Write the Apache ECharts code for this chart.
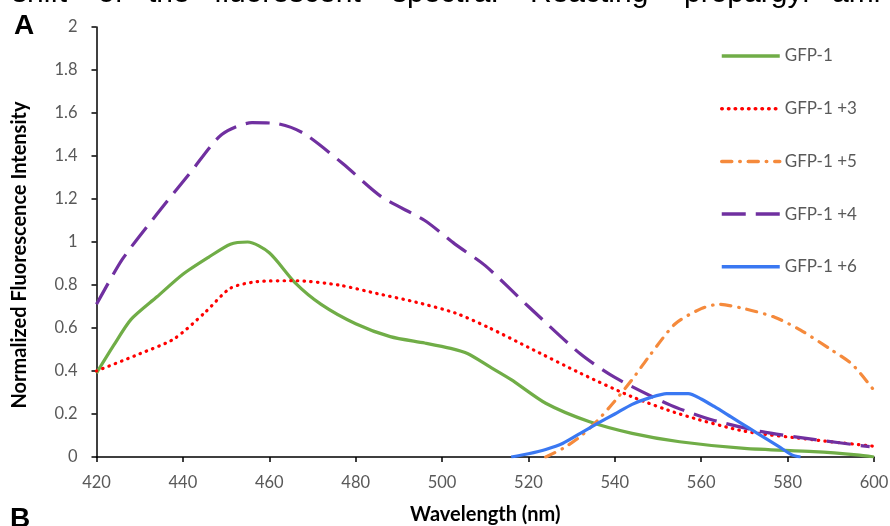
<!DOCTYPE html>
<html>
<head>
<meta charset="utf-8">
<script src="https://cdn.jsdelivr.net/npm/echarts@6/dist/echarts.min.js"></script>
<style>
  html, body { margin: 0; padding: 0; background: #fff; }
  #chart { width: 890px; height: 526px; }
</style>
</head>
<body>
<div id="chart"></div>
<script>
// Axis tick settings
const xTicks = { min: 420, max: 600, step: 20 };
const yTicks = { min: 0, max: 2, step: 0.2 };

// GFP-1
const gfp1Nm = [420, 424, 428, 434, 440, 446, 451, 455, 460, 466, 472, 480, 488, 496, 502, 506, 511, 516, 524, 534, 544, 555, 570, 586, 596, 600];
const gfp1Val = [0.39, 0.52, 0.64, 0.745, 0.85, 0.93, 0.99, 1.0, 0.95, 0.81, 0.71, 0.62, 0.56, 0.53, 0.505, 0.48, 0.42, 0.36, 0.25, 0.165, 0.11, 0.071, 0.04, 0.025, 0.01, 0.0];

// GFP-1 +3
const gfp13Nm = [420, 430, 438, 445, 451, 457, 466, 476, 485, 494, 503, 511, 520, 532, 544, 555, 570, 586, 600];
const gfp13Val = [0.40, 0.48, 0.55, 0.67, 0.785, 0.815, 0.82, 0.80, 0.76, 0.72, 0.67, 0.60, 0.51, 0.39, 0.28, 0.20, 0.12, 0.08, 0.05];

// GFP-1 +5
const gfp15Nm = [524, 528, 532, 536, 540, 544, 548, 554, 560, 564, 570, 577, 583, 590, 595, 600];
const gfp15Val = [0.0, 0.04, 0.095, 0.17, 0.26, 0.36, 0.47, 0.62, 0.69, 0.71, 0.69, 0.65, 0.59, 0.50, 0.43, 0.31];

// GFP-1 +4
const gfp14Nm = [420, 426, 434, 442, 449, 456, 462, 468, 477, 486, 496, 503, 510, 520, 532, 540, 553, 563, 574, 586, 599];
const gfp14Val = [0.71, 0.92, 1.13, 1.33, 1.50, 1.555, 1.55, 1.505, 1.365, 1.21, 1.10, 0.99, 0.89, 0.70, 0.48, 0.37, 0.24, 0.17, 0.118, 0.082, 0.048];

// GFP-1 +6
const gfp16Nm = [516, 520, 524, 528, 532, 536, 540, 544, 548, 552, 557, 560, 563, 567, 571, 575, 578, 581, 583];
const gfp16Val = [0.0, 0.015, 0.035, 0.064, 0.11, 0.156, 0.20, 0.245, 0.275, 0.295, 0.295, 0.27, 0.235, 0.185, 0.135, 0.085, 0.048, 0.01, 0.0];

const seriesNames = ['GFP-1', 'GFP-1 +3', 'GFP-1 +5', 'GFP-1 +4', 'GFP-1 +6'];

// Words of the running caption line above the panel, with their left edges
const captionWords = ['shift', 'of', 'the', 'fluorescent', 'spectra.', 'Reacting', 'propargyl', 'ami'];
const captionLeft = [12, 98, 148, 214, 392, 530, 684, 832];

function pairs(xs, ys) { return xs.map((x, i) => [x, ys[i]]); }

const uiFont = 'Lato, "Open Sans", sans-serif';

function lineSeries(name, xs, ys, color, type, cap) {
  return {
    name, type: 'line', data: pairs(xs, ys), symbol: 'none', smooth: 0.25,
    lineStyle: { color, width: 3.2, type, cap: cap || 'butt', join: 'round' },
    itemStyle: { color },
    z: 3
  };
}

const chart = echarts.init(document.getElementById('chart'));
chart.setOption({
  animation: false,
  backgroundColor: '#ffffff',
  grid: { left: 96.5, right: 16, top: 27, bottom: 69, containLabel: false, outerBoundsMode: 'none' },
  xAxis: {
    type: 'value', min: xTicks.min, max: xTicks.max, interval: xTicks.step,
    name: 'Wavelength (nm)', nameLocation: 'middle', nameGap: 48,
    nameTextStyle: { fontFamily: uiFont, fontWeight: 'bold', fontSize: 20, color: '#000' },
    axisLine: { lineStyle: { color: '#000', width: 1.5 } },
    axisTick: { show: true, length: 5, lineStyle: { color: '#000', width: 1.5 } },
    axisLabel: { color: '#595959', fontFamily: uiFont, fontSize: 16.5, margin: 17.5 },
    splitLine: { show: false }
  },
  yAxis: {
    type: 'value', min: yTicks.min, max: yTicks.max, interval: yTicks.step,
    axisLine: { show: true, lineStyle: { color: '#000', width: 1.5 } },
    axisTick: { show: true, length: 5, lineStyle: { color: '#000', width: 1.5 } },
    axisLabel: { color: '#595959', fontFamily: uiFont, fontSize: 16.5, margin: 19 },
    splitLine: { show: false }
  },
  legend: {
    orient: 'vertical', left: 715, top: 41, itemWidth: 58, itemHeight: 20, itemGap: 32.7,
    itemStyle: { opacity: 0 },
    lineStyle: { width: 3.5 },
    textStyle: { color: '#595959', fontFamily: uiFont, fontSize: 17, lineHeight: 20 },
    data: seriesNames
  },
  series: [
    lineSeries(seriesNames[0], gfp1Nm, gfp1Val, '#70AD47', 'solid'),
    lineSeries(seriesNames[1], gfp13Nm, gfp13Val, '#FF0000', [0.5, 6.2], 'round'),
    lineSeries(seriesNames[2], gfp15Nm, gfp15Val, '#F58A3C', [10, 8, 0.5, 8], 'round'),
    lineSeries(seriesNames[3], gfp14Nm, gfp14Val, '#7030A0', [24, 10]),
    lineSeries(seriesNames[4], gfp16Nm, gfp16Val, '#3A78F2', 'solid')
  ],
  graphic: captionWords.map((w, i) => ({
    type: 'text', left: captionLeft[i], top: -21,
    style: { text: w, font: '30px "Liberation Sans", Arial, sans-serif', fill: '#000' }
  })).concat([
    { type: 'text', left: 14, top: 12, style: { text: 'A', font: 'bold 28px "Liberation Sans", Arial, sans-serif', fill: '#000' } },
    { type: 'text', left: 10, top: 505, style: { text: 'B', font: 'bold 28px "Liberation Sans", Arial, sans-serif', fill: '#000' } },
    {
      type: 'text', x: 20, y: 255, rotation: Math.PI / 2,
      style: { text: 'Normalized Fluorescence Intensity', font: 'bold 20px Lato, "Open Sans", sans-serif',
               fill: '#000', align: 'center', verticalAlign: 'middle' }
    }
  ])
});
</script>
</body>
</html>
